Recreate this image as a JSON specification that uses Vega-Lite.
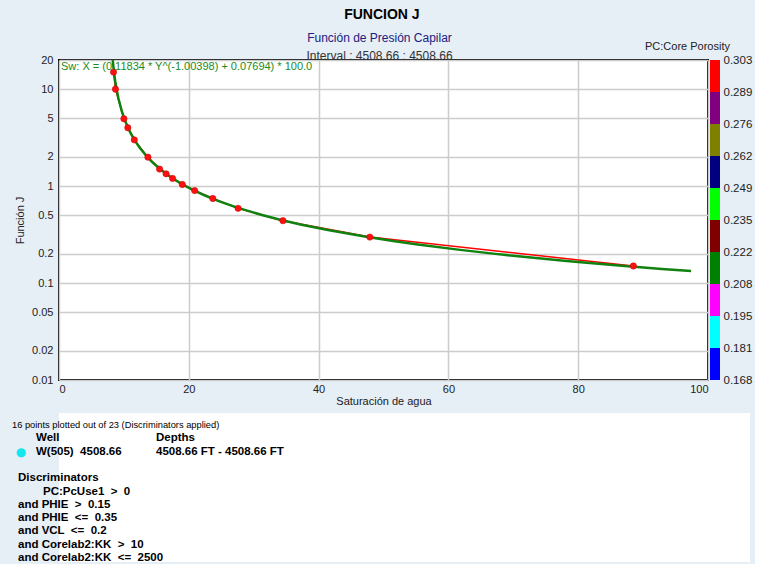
{
  "$schema": "https://vega.github.io/schema/vega-lite/v6.json",
  "background": "#e6eef6",
  "padding": {"left": 12, "top": 8, "right": 3, "bottom": 2},
  "title": {"text": "FUNCION J", "font": "Liberation Sans", "fontSize": 14, "fontWeight": "bold", "color": "#000000", "anchor": "middle", "offset": 9},
  "config": {
    "font": "Liberation Sans",
    "view": {"stroke": null},
    "axis": {"labelFont": "Liberation Sans", "labelFontSize": 11, "labelColor": "#222222", "titleFont": "Liberation Sans", "titleFontSize": 11, "titleFontWeight": "normal", "titleColor": "#222222", "ticks": false, "domain": false, "gridColor": "#cccccc", "gridWidth": 1.5, "labelOverlap": false},
    "title": {"font": "Liberation Sans"}
  },
  "datasets": {
    "pts": [
      {"sw": 8.4, "j": 15.0}, {"sw": 8.7, "j": 10.0}, {"sw": 10.0, "j": 4.95}, {"sw": 10.6, "j": 4.0},
      {"sw": 11.6, "j": 3.0}, {"sw": 13.7, "j": 1.99}, {"sw": 15.5, "j": 1.5}, {"sw": 16.5, "j": 1.34},
      {"sw": 17.5, "j": 1.2}, {"sw": 19.0, "j": 1.04}, {"sw": 20.9, "j": 0.9}, {"sw": 23.7, "j": 0.745},
      {"sw": 27.6, "j": 0.59}, {"sw": 34.5, "j": 0.44}, {"sw": 47.9, "j": 0.298}, {"sw": 88.5, "j": 0.15}
    ],
    "fit": [
      {"sw": 8.279, "j": 20}, {"sw": 8.474, "j": 15}, {"sw": 8.670, "j": 12}, {"sw": 8.867, "j": 10},
      {"sw": 9.161, "j": 8}, {"sw": 9.652, "j": 6}, {"sw": 10.046, "j": 5}, {"sw": 10.636, "j": 4},
      {"sw": 11.058, "j": 3.5}, {"sw": 11.621, "j": 3}, {"sw": 12.410, "j": 2.5}, {"sw": 13.595, "j": 2},
      {"sw": 14.441, "j": 1.75}, {"sw": 15.571, "j": 1.5}, {"sw": 16.788, "j": 1.3}, {"sw": 17.548, "j": 1.2},
      {"sw": 18.448, "j": 1.1}, {"sw": 19.528, "j": 1.0}, {"sw": 20.848, "j": 0.9}, {"sw": 22.500, "j": 0.8},
      {"sw": 24.624, "j": 0.7}, {"sw": 27.457, "j": 0.6}, {"sw": 31.427, "j": 0.5}, {"sw": 34.076, "j": 0.45},
      {"sw": 37.387, "j": 0.4}, {"sw": 41.647, "j": 0.35}, {"sw": 47.330, "j": 0.3}, {"sw": 51.753, "j": 0.27},
      {"sw": 55.292, "j": 0.25}, {"sw": 61.810, "j": 0.22}, {"sw": 67.244, "j": 0.2}, {"sw": 73.889, "j": 0.18},
      {"sw": 77.798, "j": 0.17}, {"sw": 82.198, "j": 0.16}, {"sw": 87.185, "j": 0.15}, {"sw": 92.887, "j": 0.14},
      {"sw": 97.389, "j": 0.133}
    ],
    "eq": [{"sw": 0, "j": 20, "label": "Sw: X = (0.11834 * Y^(-1.00398) + 0.07694) * 100.0"}],
    "bar": [
      {"lo": 0.168, "hi": 0.1815, "color": "#0000ff"},
      {"lo": 0.1815, "hi": 0.195, "color": "#00ffff"},
      {"lo": 0.195, "hi": 0.2085, "color": "#ff00ff"},
      {"lo": 0.2085, "hi": 0.222, "color": "#008000"},
      {"lo": 0.222, "hi": 0.2355, "color": "#800000"},
      {"lo": 0.2355, "hi": 0.249, "color": "#00ff00"},
      {"lo": 0.249, "hi": 0.2625, "color": "#000080"},
      {"lo": 0.2625, "hi": 0.276, "color": "#808000"},
      {"lo": 0.276, "hi": 0.2895, "color": "#800080"},
      {"lo": 0.2895, "hi": 0.303, "color": "#ff0000"}
    ],
    "notes": [
      {"line": 0, "col": "note", "text": "16 points plotted out of 23 (Discriminators applied)"},
      {"line": 1, "col": "well", "text": "Well"},
      {"line": 1, "col": "depth", "text": "Depths"},
      {"line": 2, "col": "dot", "text": "●"},
      {"line": 2, "col": "well", "text": "W(505)\u00a0 4508.66"},
      {"line": 2, "col": "depth", "text": "4508.66 FT - 4508.66 FT"},
      {"line": 4, "col": "disc", "text": "Discriminators"},
      {"line": 5, "col": "cond", "text": "PC:PcUse1 \u00a0>\u00a0 0"},
      {"line": 6, "col": "disc", "text": "and PHIE \u00a0>\u00a0 0.15"},
      {"line": 7, "col": "disc", "text": "and PHIE \u00a0<=\u00a0 0.35"},
      {"line": 8, "col": "disc", "text": "and VCL \u00a0<=\u00a0 0.2"},
      {"line": 9, "col": "disc", "text": "and Corelab2:KK \u00a0>\u00a0 10"},
      {"line": 10, "col": "disc", "text": "and Corelab2:KK \u00a0<=\u00a0 2500"}
    ],
    "panel": [{"from": -0.077, "to": 1}]
  },
  "columns": 1,
  "spacing": 6,
  "concat": [
    {
      "bounds": "flush",
      "spacing": 2,
      "hconcat": [
        {
          "width": 649,
          "height": 320,
          "title": {"text": "Función de Presión Capilar", "subtitle": "Interval : 4508.66 : 4508.66", "fontSize": 12, "fontWeight": "normal", "color": "#202080", "subtitleFont": "Liberation Sans", "subtitleFontSize": 12, "subtitleColor": "#333333", "subtitlePadding": 6, "anchor": "middle", "frame": "group", "dx": -4, "offset": -9},
          "view": {"fill": "#ffffff", "stroke": "#000000", "strokeWidth": 2},
          "encoding": {
            "x": {"field": "sw", "type": "quantitative", "scale": {"domain": [0, 100], "nice": false, "zero": false},
                  "axis": {"values": [0, 20, 40, 60, 80, 100], "title": "Saturación de agua", "labelPadding": 3, "titlePadding": 1, "grid": true}},
            "y": {"field": "j", "type": "quantitative", "scale": {"type": "log", "domain": [0.01, 20], "nice": false},
                  "axis": {"values": [0.01, 0.02, 0.05, 0.1, 0.2, 0.5, 1, 2, 5, 10, 20], "format": "~g", "title": "Función J", "labelPadding": 6, "titlePadding": 6, "grid": true}}
          },
          "layer": [
            {"data": {"name": "pts"}, "mark": {"type": "line", "color": "#ff0000", "strokeWidth": 1.5, "clip": true}},
            {"data": {"name": "fit"}, "mark": {"type": "line", "color": "#0f820f", "strokeWidth": 2.5, "clip": true}},
            {"data": {"name": "pts"}, "mark": {"type": "circle", "size": 40, "color": "#ff1010", "opacity": 1, "stroke": "#c00000", "strokeWidth": 0.5}},
            {"data": {"name": "eq"}, "mark": {"type": "text", "align": "left", "baseline": "top", "dx": 2, "dy": 1, "color": "#1a8c1a", "fontSize": 11, "font": "Liberation Sans"},
             "encoding": {"text": {"field": "label"}}}
          ]
        },
        {
          "width": 10,
          "height": 320,
          "title": {"text": "PC:Core Porosity", "anchor": "end", "frame": "group", "dx": 10, "offset": 2, "fontSize": 11, "fontWeight": "normal", "color": "#222222"},
          "data": {"name": "bar"},
          "mark": {"type": "rect"},
          "encoding": {
            "y": {"field": "lo", "type": "quantitative", "scale": {"domain": [0.168, 0.303], "nice": false, "zero": false},
                  "axis": {"orient": "right", "values": [0.168, 0.1815, 0.195, 0.2085, 0.222, 0.2355, 0.249, 0.2625, 0.276, 0.2895, 0.303], "labelExpr": "format(floor(datum.value*1000+0.000001)/1000, '.3f')", "grid": false, "title": null, "labelPadding": 3, "labelFontSize": 11.5}},
            "y2": {"field": "hi"},
            "color": {"field": "color", "type": "nominal", "scale": null, "legend": null}
          }
        }
      ]
    },
    {
      "width": 691,
      "height": 149,
      "view": {"fill": "#ffffff", "stroke": null},
      "encoding": {
        "y": {"field": "line", "type": "quantitative", "scale": {"domain": [0, 10], "range": [12, 145]}, "axis": null},
        "x": {"datum": 0, "type": "quantitative", "scale": {"domain": [0, 1], "range": [0, 691]}, "axis": null},
        "text": {"field": "text"}
      },
      "layer": [
        {"data": {"name": "panel"}, "mark": {"type": "rect", "color": "#ffffff"},
         "encoding": {"x": {"field": "from", "type": "quantitative"}, "x2": {"field": "to"}, "y": null, "text": null}},
        {"data": {"name": "notes"}, "transform": [{"filter": "datum.col == 'note'"}], "mark": {"type": "text", "align": "left", "baseline": "middle", "dx": -47, "fontSize": 9.3, "color": "#000000"}},
        {"data": {"name": "notes"}, "transform": [{"filter": "datum.col == 'disc'"}], "mark": {"type": "text", "align": "left", "baseline": "middle", "dx": -41, "fontSize": 11.5, "fontWeight": "bold", "color": "#000000"}},
        {"data": {"name": "notes"}, "transform": [{"filter": "datum.col == 'cond'"}], "mark": {"type": "text", "align": "left", "baseline": "middle", "dx": -16, "fontSize": 11.5, "fontWeight": "bold", "color": "#000000"}},
        {"data": {"name": "notes"}, "transform": [{"filter": "datum.col == 'well'"}], "mark": {"type": "text", "align": "left", "baseline": "middle", "dx": -23, "fontSize": 11.5, "fontWeight": "bold", "color": "#000000"}},
        {"data": {"name": "notes"}, "transform": [{"filter": "datum.col == 'depth'"}], "mark": {"type": "text", "align": "left", "baseline": "middle", "dx": 97, "fontSize": 11.5, "fontWeight": "bold", "color": "#000000"}},
        {"data": {"name": "notes"}, "transform": [{"filter": "datum.col == 'dot'"}], "mark": {"type": "text", "align": "center", "baseline": "middle", "dx": -38, "fontSize": 12, "font": "DejaVu Sans", "color": "#14e6f0"}}
      ]
    }
  ]
}
